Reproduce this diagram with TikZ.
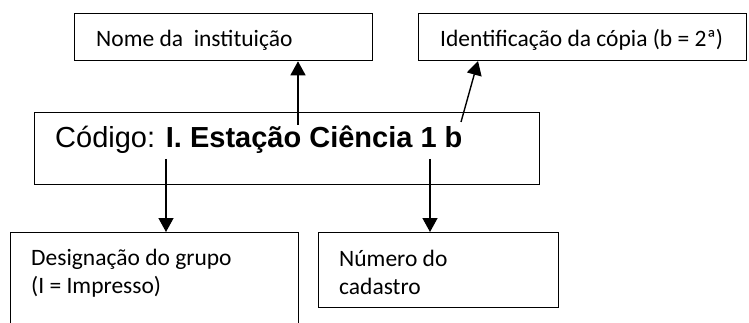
\documentclass[tikz,border=0pt]{standalone}
\usepackage{fontspec}
\setmainfont{Carlito}
\newfontfamily\arialf{Liberation Sans}
\usetikzlibrary{arrows.meta,calc}
\begin{document}
\begin{tikzpicture}[x=1pt,y=-1pt,
  box/.style={draw=black,line width=1.3pt,inner sep=0pt,anchor=north west},
  lbl/.style={anchor=base west,inner sep=0pt,font=\fontsize{23.5}{28}\selectfont},
  arr/.style={draw=black,line width=1.4pt,-{Triangle[length=14pt,width=15pt]}}]
\useasboundingbox (0,0) rectangle (749,323);
\clip (0,0) rectangle (749,323);
% boxes
\node[box,minimum width=298pt,minimum height=47pt] (b1) at (74,13) {};
\node[box,minimum width=328pt,minimum height=47pt] (b2) at (418,13) {};
\node[box,minimum width=505pt,minimum height=72pt] (bm) at (34,112) {};
\node[box,minimum width=288pt,minimum height=110pt] (b3) at (10,232) {};
\node[box,minimum width=240pt,minimum height=75pt] (b4) at (318,232) {};
% texts
\node[lbl] (t1) at (96,47) {Nome da\ \ instituição};
\node[lbl] (t2) at (440,47) {Identificação da cópia (b = 2ª)};
\node[lbl,font=\arialf\fontsize{29}{34}\selectfont] (tm) at (55,148) {Código: \textbf{I. Estação Ciência 1 b}};
\node[lbl] (t3a) at (31,265) {Designação do grupo};
\node[lbl] (t3b) at (31,293) {(I = Impresso)};
\node[lbl] (t4a) at (339,266) {Número do};
\node[lbl] (t4b) at (339,294) {cadastro};
% connectors
\coordinate (s1) at (298,125);
\coordinate (s2) at (461,122);
\coordinate (e2) at (478,61);
\coordinate (s3) at (166,159);
\coordinate (s4) at (430,159);
\draw[arr] (s1) -- (s1 |- b1.south);
\draw[arr] (s2) -- (e2);
\draw[arr] (s3) -- (s3 |- b3.north);
\draw[arr] (s4) -- (s4 |- b4.north);
\end{tikzpicture}
\end{document}
